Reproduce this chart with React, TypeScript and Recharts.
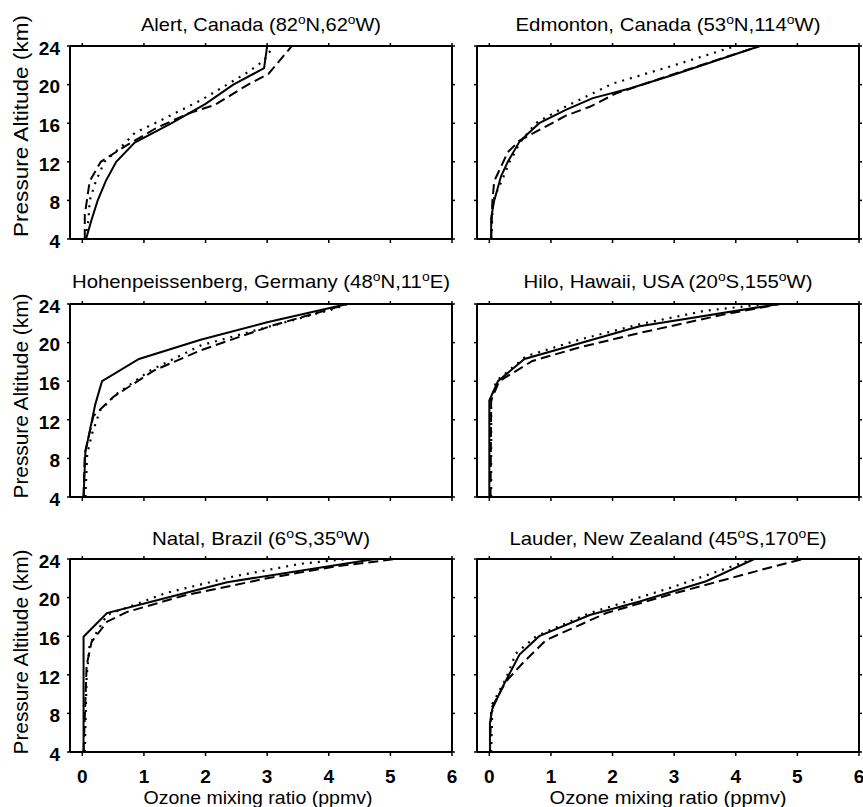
import React from 'react';
import { LineChart, Line, XAxis, YAxis } from 'recharts';

// ---- data: [ozone ppmv, pressure altitude km] ----
const alertSolid = [[0.06, 4], [0.15, 6], [0.25, 8], [0.38, 10], [0.55, 12], [0.85, 14], [1.45, 16], [2.0, 18], [2.45, 20], [2.95, 21.7], [3.0, 24]];
const alertDotted = [[0.05, 4], [0.1, 6], [0.12, 8], [0.22, 10], [0.36, 12], [0.69, 13.9], [0.85, 15], [1.18, 16], [1.93, 18.4], [2.69, 21.3], [2.95, 22.5], [3.1, 24]];
const alertDashed = [[0.04, 4], [0.04, 6.5], [0.12, 10], [0.3, 12], [0.69, 13.6], [1.2, 15.5], [1.72, 17], [2.15, 17.9], [2.69, 20], [3.02, 21.1], [3.4, 24]];

const edmSolid = [[0.03, 4], [0.03, 6.2], [0.08, 8], [0.19, 10.5], [0.3, 12], [0.49, 14.1], [0.81, 16], [1.25, 17.4], [1.68, 18.6], [2.28, 19.6], [2.98, 21], [4.39, 24]];
const edmDotted = [[0.03, 4], [0.06, 8], [0.2, 10], [0.33, 12], [0.5, 14], [0.75, 16], [1.2, 17.6], [2.0, 20.1], [3.0, 22], [4.0, 24]];
const edmDashed = [[0.03, 4], [0.05, 8], [0.08, 10], [0.3, 13], [0.49, 14.2], [1.25, 16.8], [1.63, 17.7], [2.06, 19.1], [2.44, 19.9], [3.0, 21.1], [4.39, 24]];

const hohSolid = [[0.02, 4], [0.05, 8.7], [0.1, 10.2], [0.21, 13.6], [0.32, 16], [0.92, 18.3], [1.92, 20.3], [3.0, 22.1], [4.3, 24]];
const hohDotted = [[0.05, 4], [0.08, 8.5], [0.16, 10.6], [0.29, 13], [0.56, 14.7], [1.1, 17.1], [1.92, 19.7], [3.0, 21.6], [4.09, 23.5], [4.3, 24]];
const hohDashed = [[0.02, 4], [0.04, 8.5], [0.18, 12.4], [0.51, 14.4], [1.16, 17.1], [1.92, 19.2], [3.1, 21.8], [3.82, 23.1], [4.3, 24]];

const hiloSolid = [[0.0, 4], [0.0, 14], [0.14, 16], [0.57, 18.3], [2.44, 21.7], [4.7, 24]];
const hiloDotted = [[0.03, 4], [0.03, 14], [0.11, 16], [0.6, 18.6], [1.46, 20.3], [2.44, 21.9], [3.5, 23.3], [4.5, 24]];
const hiloDashed = [[0.02, 4], [0.03, 14], [0.16, 16], [0.7, 18.1], [1.46, 19.5], [2.44, 21], [3.8, 22.9], [4.72, 24]];

const natalSolid = [[0.02, 4], [0.02, 15.95], [0.4, 18.4], [1.26, 19.8], [2.35, 21.6], [4.75, 24]];
const natalDotted = [[0.04, 4], [0.07, 11.8], [0.12, 15.2], [0.4, 18.2], [1.37, 20.5], [2.46, 22.2], [3.54, 23.5], [4.3, 24]];
const natalDashed = [[0.02, 4], [0.07, 13], [0.15, 15.4], [0.4, 17.5], [0.72, 18.5], [1.64, 20.2], [3.0, 22], [4.08, 23.2], [5.08, 24]];

const lauderSolid = [[0.01, 4], [0.01, 7], [0.05, 8.5], [0.22, 10.8], [0.49, 14.1], [0.81, 16], [1.63, 18.2], [2.44, 19.6], [3.52, 21.7], [4.3, 24]];
const lauderDotted = [[0.03, 4], [0.05, 9], [0.27, 11.6], [0.43, 14.2], [0.76, 16], [1.63, 18.4], [2.98, 21.1], [4.28, 24]];
const lauderDashed = [[0.01, 4], [0.03, 8.5], [0.27, 11.3], [0.54, 13.2], [0.92, 15.6], [1.9, 18.4], [2.98, 20.4], [4.6, 23.2], [5.09, 24]];

const titles = [
  'Alert, Canada (82°N,62°W)',
  'Edmonton, Canada (53°N,114°W)',
  'Hohenpeissenberg, Germany (48°N,11°E)',
  'Hilo, Hawaii, USA (20°S,155°W)',
  'Natal, Brazil (6°S,35°W)',
  'Lauder, New Zealand (45°S,170°E)',
];
const xTicks = [0, 1, 2, 3, 4, 5, 6];
const yTicks = [4, 8, 12, 16, 20, 24];
const xTitle = 'Ozone mixing ratio (ppmv)';
const yTitle = 'Pressure Altitude (km)';

const series = [
  [alertSolid, alertDotted, alertDashed],
  [edmSolid, edmDotted, edmDashed],
  [hohSolid, hohDotted, hohDashed],
  [hiloSolid, hiloDotted, hiloDashed],
  [natalSolid, natalDotted, natalDashed],
  [lauderSolid, lauderDotted, lauderDashed],
];

// ---- layout ----
const FONT = '"Liberation Sans", Arial, Helvetica, sans-serif';
const colLeft = [70, 477];
const rowTop = [46, 304, 559];
const PW = 382;
const PH = 193;
const T = 12;
const R = 8;
const titleWidths = [240, 305, 378, 289, 218, 317];
const titleBase = [31, 288, 545];
const colCenter = [261, 668];
const yTitleCenter = [126, 396, 652];
const yTitleLen = [222, 205, 205];

const toPts = (a: number[][]) => a.map(([x, y]) => ({ x, y }));
const blank = () => '';
const dashes = [undefined, '2 6', '10 5'];

function Panel({ idx }: { idx: number }) {
  const col = idx % 2;
  const row = Math.floor(idx / 2);
  const L = col === 0 ? 70 : 8;
  const B = row === 2 ? 40 : 14;
  const W = L + PW + R;
  const H = T + PH + B;
  const axisLine = { stroke: '#000', strokeWidth: 2 };
  const tickLine = { stroke: '#000', strokeWidth: 1.5 };
  const tickStyle = { fill: '#000', fontSize: 19, fontWeight: 'bold', fontFamily: FONT };
  return (
    <div style={{ position: 'absolute', left: colLeft[col] - L, top: rowTop[row] - T, width: W, height: H }}>
      <LineChart width={W} height={H} margin={{ top: 0, right: 0, bottom: 0, left: 0 }} style={{ overflow: 'visible' }}>
        <XAxis xAxisId="b" type="number" dataKey="x" domain={[-0.2, 6]} ticks={xTicks} allowDataOverflow
          orientation="bottom" height={B} tickSize={4} tickMargin={13.5} axisLine={axisLine} tickLine={tickLine}
          tick={tickStyle} tickFormatter={row === 2 ? undefined : blank} interval={0} />
        <XAxis xAxisId="t" type="number" dataKey="x" domain={[-0.2, 6]} ticks={xTicks} allowDataOverflow
          orientation="top" height={T} tickSize={3} axisLine={axisLine} tickLine={tickLine}
          tickFormatter={blank} interval={0} />
        <YAxis yAxisId="l" type="number" domain={[4, 24]} ticks={yTicks} allowDataOverflow
          orientation="left" width={L} tickSize={3} tickMargin={7} axisLine={axisLine} tickLine={tickLine}
          tick={{ ...tickStyle, dy: 2 }} tickFormatter={col === 0 ? undefined : blank} interval={0} />
        <YAxis yAxisId="r" type="number" domain={[4, 24]} ticks={yTicks} allowDataOverflow
          orientation="right" width={R} tickSize={3} axisLine={axisLine} tickLine={tickLine}
          tickFormatter={blank} interval={0} />
        {series[idx].map((s, i) => (
          <Line key={i} xAxisId="b" yAxisId="l" data={toPts(s)} dataKey="y" type="linear"
            stroke="#000" strokeWidth={i === 1 ? 2.2 : 2} strokeDasharray={dashes[i]}
            dot={false} activeDot={false} isAnimationActive={false} />
        ))}
      </LineChart>
    </div>
  );
}

function TitleText({ text, x, y, width }: { text: string; x: number; y: number; width: number }) {
  const parts = text.split('°');
  const out: React.ReactNode[] = [];
  parts.forEach((p, i) => {
    out.push(<tspan key={'p' + i} dy={i === 0 ? 0 : 7}>{p}</tspan>);
    if (i < parts.length - 1) out.push(<tspan key={'s' + i} dy={-7} fontSize={13}>o</tspan>);
  });
  return (
    <text x={x} y={y} textAnchor="middle" fontSize={19} fontFamily={FONT} fill="#000"
      textLength={width} lengthAdjust="spacingAndGlyphs">{out}</text>
  );
}

export default function App() {
  return (
    <div style={{ position: 'absolute', left: 0, top: 0, width: 863, height: 807, background: '#fff', overflow: 'hidden' }}>
      {series.map((_, i) => <Panel key={i} idx={i} />)}
      <svg width={863} height={807} style={{ position: 'absolute', left: 0, top: 0, pointerEvents: 'none' }}>
        {titles.map((t, i) => (
          <TitleText key={i} text={t} x={colCenter[i % 2]} y={titleBase[Math.floor(i / 2)]} width={titleWidths[i]} />
        ))}
        {rowTop.map((_, r) => (
          <text key={'yt' + r} x={28} y={yTitleCenter[r]} transform={`rotate(-90, 28, ${yTitleCenter[r]})`}
            textAnchor="middle" fontSize={21} fontFamily={FONT} fill="#000"
            textLength={yTitleLen[r]} lengthAdjust="spacingAndGlyphs">{yTitle}</text>
        ))}
        {colCenter.map((cx, c) => (
          <text key={'xt' + c} x={c === 0 ? 258 : 668} y={804} textAnchor="middle" fontSize={19}
            fontFamily={FONT} fill="#000" textLength={c === 0 ? 229 : 237} lengthAdjust="spacingAndGlyphs">{xTitle}</text>
        ))}
      </svg>
    </div>
  );
}
